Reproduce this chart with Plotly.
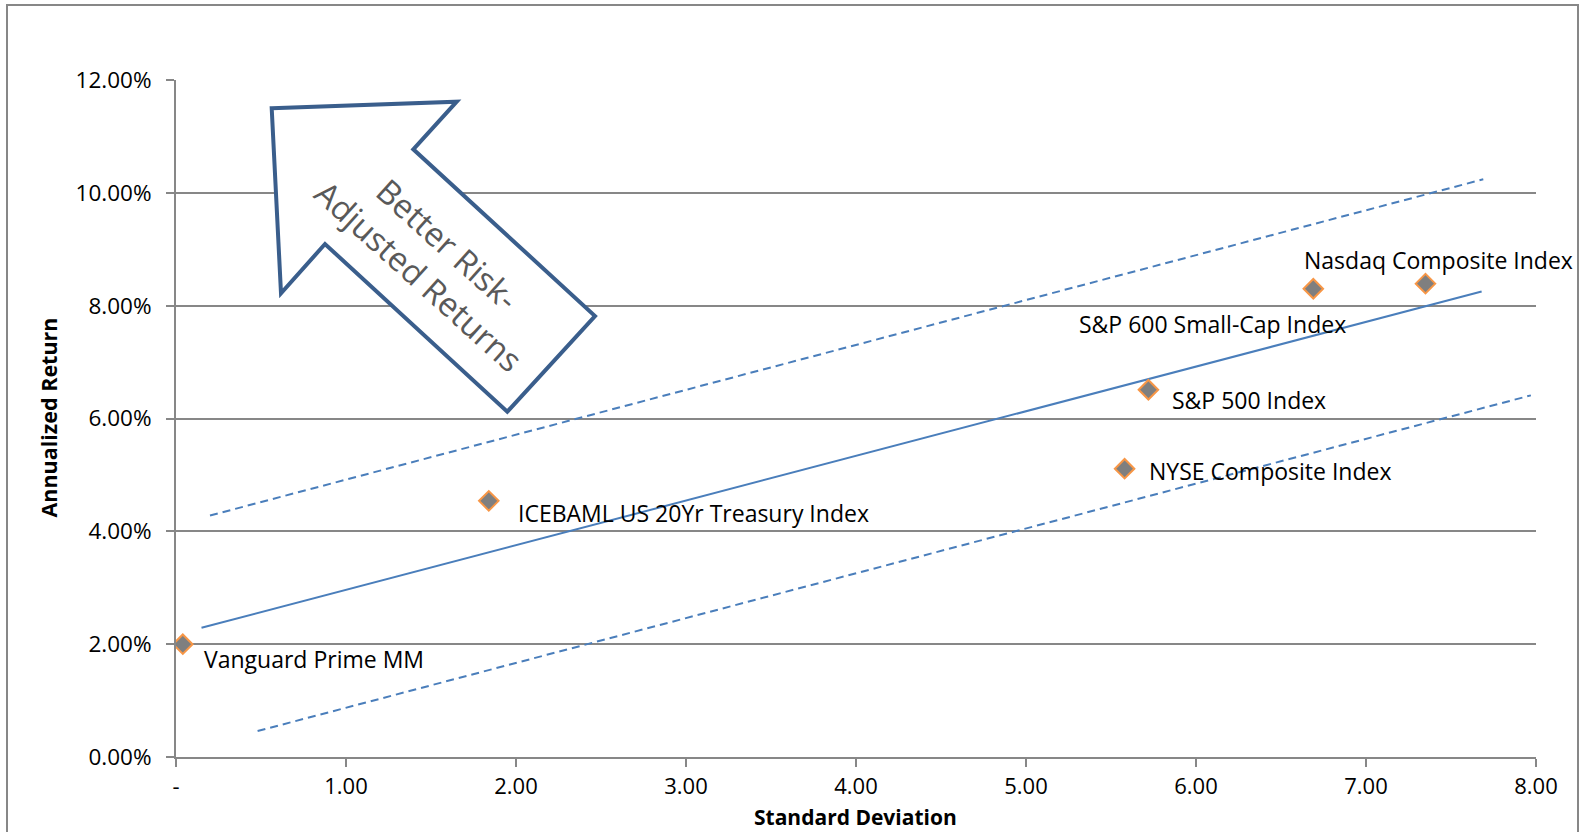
import plotly.graph_objects as go

# ---- data ----
names = ["Vanguard Prime MM", "ICEBAML US 20Yr Treasury Index", "NYSE Composite Index",
         "S&P 500 Index", "S&P 600 Small-Cap Index", "Nasdaq Composite Index"]
std_dev = [0.04, 1.84, 5.58, 5.72, 6.69, 7.35]
ann_return = [0.0200, 0.0454, 0.0511, 0.0651, 0.0830, 0.0839]

fit_x = [0.15, 7.68]
fit_y = [0.0229, 0.0825]
upper_x = [0.20, 7.69]
upper_y = [0.0428, 0.1024]
lower_x = [0.48, 7.97]
lower_y = [0.0046, 0.0641]

x_tickvals = [0, 1, 2, 3, 4, 5, 6, 7, 8]
x_ticktext = ["-", "1.00", "2.00", "3.00", "4.00", "5.00", "6.00", "7.00", "8.00"]
y_tickvals = [0, 0.02, 0.04, 0.06, 0.08, 0.10, 0.12]

# ---- styling ----
FONT = "Open Sans"
GRID = "#878787"
BLUE = "#4A7EBB"
W, H = 1582, 832
L, R, T, B = 176, 46, 80, 75
PW, PH = W - L - R, H - T - B

def px2paper(px, py):
    return (px - L) / PW, (H - B - py) / PH

fig = go.Figure()

fig.add_trace(go.Scatter(x=upper_x, y=upper_y, mode="lines",
                         line=dict(color=BLUE, width=2, dash="8px,5px"), hoverinfo="skip"))
fig.add_trace(go.Scatter(x=lower_x, y=lower_y, mode="lines",
                         line=dict(color=BLUE, width=2, dash="8px,5px"), hoverinfo="skip"))
fig.add_trace(go.Scatter(x=fit_x, y=fit_y, mode="lines",
                         line=dict(color=BLUE, width=2), hoverinfo="skip"))
fig.add_trace(go.Scatter(x=std_dev, y=ann_return, mode="markers", text=names,
                         marker=dict(symbol="diamond", size=15, color="#7F7F7F",
                                     line=dict(color="#F79646", width=2))))

# data labels: (xanchor, xshift, yshift) per point
label_pos = [("left", 19, -15), ("left", 27, -12), ("left", 22, -2),
             ("left", 22, -10), ("center", -101, -35), ("center", 13, 24)]
for nm, xv, yv, (xa, xs, ys) in zip(names, std_dev, ann_return, label_pos):
    fig.add_annotation(x=xv, y=yv, xref="x", yref="y", text=nm, showarrow=False,
                       xanchor=xa, yanchor="middle", xshift=xs, yshift=ys,
                       font=dict(family=FONT, size=23, color="#000000"))

# big arrow shape (pixel vertices converted to paper coords)
arrow_px = [(271.7, 108.3), (456.7, 101.7), (413.3, 149.3), (595.0, 316.0),
            (507.3, 411.7), (325.0, 244.0), (281.0, 293.3)]
pts = [px2paper(a, b) for a, b in arrow_px]
path = "M " + " L ".join(f"{a:.5f},{b:.5f}" for a, b in pts) + " Z"
fig.add_shape(type="path", path=path, xref="paper", yref="paper",
              line=dict(color="#3A5E8C", width=4), fillcolor="white", layer="above")

tx, ty = px2paper(433, 260)
fig.add_annotation(x=tx, y=ty, xref="paper", yref="paper",
                   text="Better Risk-<br>Adjusted Returns", showarrow=False,
                   textangle=42, xanchor="center", yanchor="middle",
                   font=dict(family=FONT, size=33, color="#595959"))

# axis titles
ax_x, ax_y = px2paper(855.5, 816.5)
fig.add_annotation(x=ax_x, y=ax_y, xref="paper", yref="paper", text="<b>Standard Deviation</b>",
                   showarrow=False, xanchor="center", yanchor="middle", borderpad=0,
                   font=dict(family=FONT, size=21, color="#000000"))
ay_x, ay_y = px2paper(48, 417.5)
fig.add_annotation(x=ay_x, y=ay_y, xref="paper", yref="paper", text="<b>Annualized Return</b>",
                   showarrow=False, textangle=-90, xanchor="center", yanchor="middle",
                   font=dict(family=FONT, size=21.5, color="#000000"))

# outer chart border
bx0, by0 = px2paper(7, 845)
bx1, by1 = px2paper(1578, 5)
fig.add_shape(type="rect", xref="paper", yref="paper", x0=bx0, y0=by0, x1=bx1, y1=by1,
              line=dict(color=GRID, width=2), fillcolor="rgba(0,0,0,0)", layer="above")

fig.update_layout(
    width=W, height=H,
    margin=dict(l=L, r=R, t=T, b=B, pad=0),
    paper_bgcolor="white", plot_bgcolor="white",
    showlegend=False,
    font=dict(family=FONT, size=23, color="#000000"),
    xaxis=dict(range=[0, 8], tickvals=x_tickvals, ticktext=x_ticktext,
               showgrid=False, zeroline=False, showline=True, linecolor=GRID, linewidth=2,
               ticks="outside", ticklen=8, tickwidth=2, tickcolor=GRID,
               ticklabelstandoff=1,
               tickfont=dict(family=FONT, size=22, color="#000000")),
    yaxis=dict(range=[0, 0.12], tickvals=y_tickvals, tickformat=".2%",
               showgrid=True, gridcolor=GRID, gridwidth=1.5, zeroline=False,
               showline=True, linecolor=GRID, linewidth=2,
               ticks="outside", ticklen=8, tickwidth=2, tickcolor=GRID,
               ticklabelstandoff=10,
               tickfont=dict(family=FONT, size=22.5, color="#000000")),
)

fig.write_html("out.html")
